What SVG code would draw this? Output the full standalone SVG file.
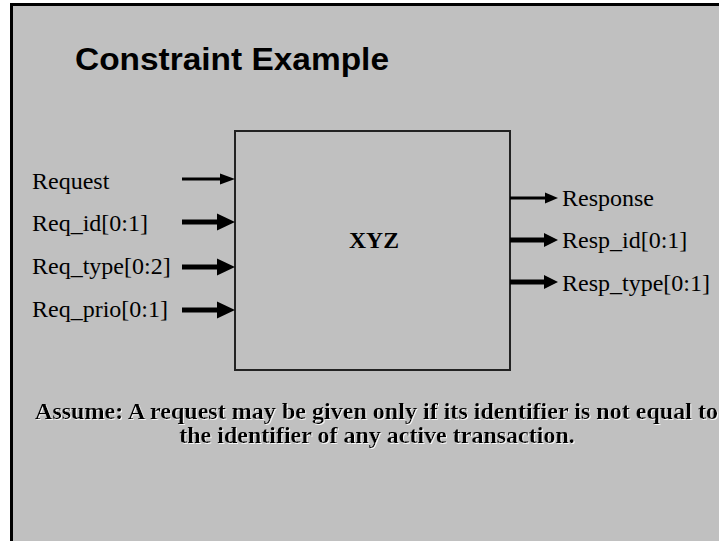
<svg xmlns="http://www.w3.org/2000/svg" width="719" height="541" viewBox="0 0 719 541">
<style>
.lbl{font-family:"Liberation Serif","Times New Roman",serif;font-size:24px;fill:#000}
.title{font-family:"Liberation Sans",Arial,sans-serif;font-size:32px;font-weight:bold;fill:#000}
.note{font-family:"Liberation Serif","Times New Roman",serif;font-size:24px;font-weight:bold;fill:#000}
.thin{stroke:#000;stroke-width:3;fill:none}
.thick{stroke:#000;stroke-width:5;fill:none}
.head{fill:#000}
</style>
<defs>
<filter id="sh" x="-5%" y="-20%" width="110%" height="140%">
<feFlood flood-color="#fff" flood-opacity="0.85"/>
<feComposite in2="SourceAlpha" operator="in"/>
<feOffset dx="1" dy="1" result="s"/>
<feMerge><feMergeNode in="s"/><feMergeNode in="SourceGraphic"/></feMerge>
</filter>
</defs>
<rect x="0" y="0" width="719" height="541" fill="#fff"/>
<rect x="11.5" y="4.5" width="720" height="550" fill="#C0C0C0" stroke="#000" stroke-width="3"/>
<text class="title" x="75" y="70" textLength="314" lengthAdjust="spacingAndGlyphs">Constraint Example</text>
<g id="xyz">
<rect x="235" y="131" width="275" height="239" fill="none" stroke="#222" stroke-width="2"/>
<text x="349" y="248" font-family="Liberation Serif,'Times New Roman',serif" font-size="24" font-weight="bold" textLength="50" lengthAdjust="spacingAndGlyphs">XYZ</text>
</g>
<g id="in-request"><text class="lbl" x="32" y="189">Request</text></g>
<g id="in-req-id"><text class="lbl" x="32" y="231">Req_id[0:1]</text></g>
<g id="in-req-type"><text class="lbl" x="32" y="274">Req_type[0:2]</text></g>
<g id="in-req-prio"><text class="lbl" x="32" y="317">Req_prio[0:1]</text></g>
<g id="out-response"><text class="lbl" x="562" y="206">Response</text></g>
<g id="out-resp-id"><text class="lbl" x="562" y="248">Resp_id[0:1]</text></g>
<g id="out-resp-type"><text class="lbl" x="562" y="291">Resp_type[0:1]</text></g>
<g id="connectors">
<line class="thin" x1="182" y1="179" x2="222" y2="179"/>
<polygon class="head" points="235,179 220,173.5 220,184.5"/>
<line class="thick" x1="182" y1="222" x2="220" y2="222"/>
<polygon class="head" points="235,222 217,213.5 217,230.5"/>
<line class="thick" x1="182" y1="267" x2="220" y2="267"/>
<polygon class="head" points="235,267 217,258.5 217,275.5"/>
<line class="thick" x1="182" y1="310" x2="220" y2="310"/>
<polygon class="head" points="235,310 217,301.5 217,318.5"/>
<line class="thin" x1="510" y1="198" x2="547" y2="198"/>
<polygon class="head" points="558,198 545,192.5 545,203.5"/>
<line class="thick" x1="510" y1="240" x2="547" y2="240"/>
<polygon class="head" points="558,240 544,233 544,247"/>
<line class="thick" x1="510" y1="282" x2="547" y2="282"/>
<polygon class="head" points="558,282 544,275 544,289"/>
</g>
<g id="note" filter="url(#sh)">
<text class="note" x="35" y="419" textLength="683" lengthAdjust="spacingAndGlyphs">Assume: A request may be given only if its identifier is not equal to</text>
<text class="note" x="377" y="443" text-anchor="middle">the identifier of any active transaction.</text>
</g>
</svg>
